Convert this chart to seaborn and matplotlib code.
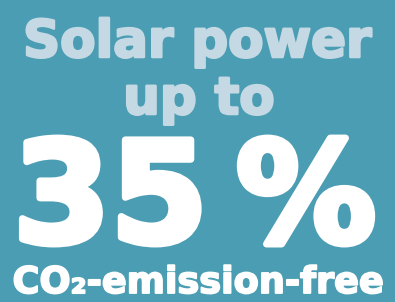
import matplotlib
matplotlib.use("Agg")
import matplotlib.pyplot as plt
import matplotlib.patheffects as pe
import seaborn as sns

sns.set_theme(style="white")
plt.rcParams['font.family'] = ['DejaVu Sans']

# text content of the panel
lines = ["Solar power", "up to", "35", "%", "CO\u2082-emission-free"]
colors = ["#c4d9e3", "#c4d9e3", "#ffffff", "#ffffff", "#ffffff"]
# target boxes in pixels: left, right, baseline
boxes = [(22, 373, 57),
         (127, 271, 114),
         (16, 205, 242),
         (242, 370, 242),
         (12, 385, 293)]
bg = "#4a9db3"

W, H = 395, 302
fig = plt.figure(figsize=(W / 100, H / 100), dpi=100)
ax = fig.add_axes([0, 0, 1, 1])
ax.set_facecolor(bg)
fig.patch.set_facecolor(bg)
ax.set_xlim(0, W)
ax.set_ylim(H, 0)
ax.set_xticks([])
ax.set_yticks([])
for s in ax.spines.values():
    s.set_visible(False)

renderer = fig.canvas.get_renderer()


def text_width(txt, size):
    t = ax.text(0, 0, txt, fontsize=size, fontweight='bold')
    w = t.get_window_extent(renderer).width
    t.remove()
    return w


stroke = 0.05  # extra weight, fraction of font size
sizes = []
for txt, (x0, x1, base) in zip(lines, boxes):
    s = 100 * (x1 - x0) / text_width(txt, 100)
    # stroke adds about lw px on both sides
    s = 100 * (x1 - x0 - s * stroke * 100 / 72) / text_width(txt, 100)
    sizes.append(s)
sizes[1] = sizes[0]
sizes[2] = sizes[2] * 1.07
sizes[3] = sizes[2]

for txt, col, size, (x0, x1, base) in zip(lines, colors, sizes, boxes):
    ax.text((x0 + x1) / 2, base, txt, fontsize=size, fontweight='bold',
            color=col, ha='center', va='baseline',
            path_effects=[pe.withStroke(linewidth=size * stroke, foreground=col)])

fig.savefig("out.png", dpi=100, facecolor=bg)
